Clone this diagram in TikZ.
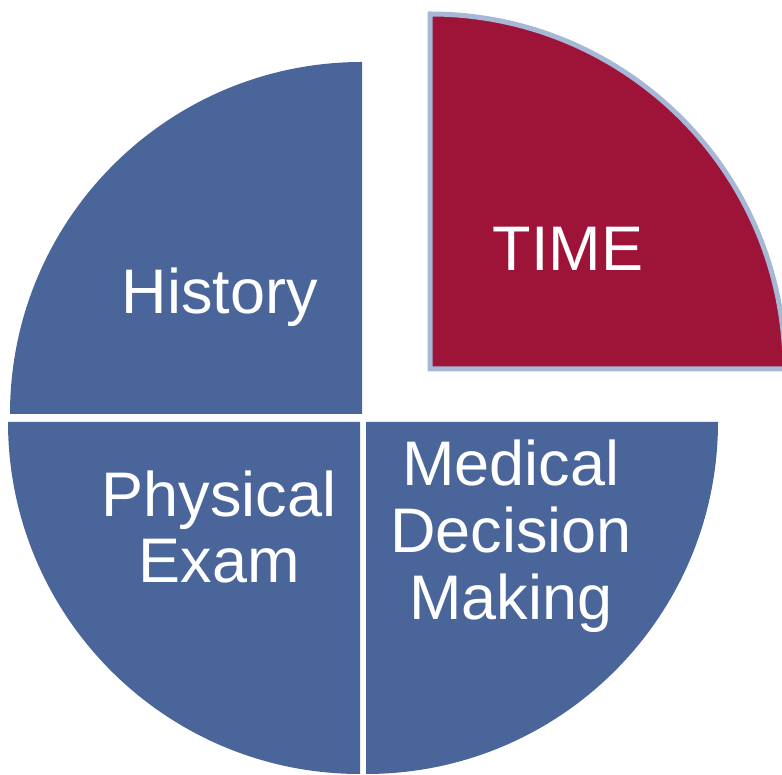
\documentclass[tikz,border=0pt]{standalone}
\usepackage{fontspec}
\setmainfont{Liberation Sans}
\definecolor{sliceblue}{HTML}{4A659A}
\definecolor{slicered}{HTML}{9E1338}
\definecolor{rimblue}{HTML}{A7B7D6}
\tikzset{
  slice/.style={fill=sliceblue, draw=none},
  timeslice/.style={fill=slicered, draw=rimblue, line width=5pt, line join=miter},
  lbl/.style={text=white, font=\fontsize{63}{66}\selectfont, align=center, inner sep=0pt, anchor=base}
}
\begin{document}
\begin{tikzpicture}[x=1pt,y=1pt]
\useasboundingbox (0,0) rectangle (782,775);
\clip (0,0) rectangle (782,775);
% History
\path[slice] (362,361) -- ++(-352,0) arc[start angle=180,end angle=90,radius=352] -- cycle;
% Physical Exam
\path[slice] (360,353) -- ++(-352,0) arc[start angle=180,end angle=270,radius=352] -- cycle;
% Medical Decision Making
\path[slice] (366,353) -- ++(352,0) arc[start angle=0,end angle=-90,radius=352] -- cycle;
% TIME
\path[timeslice] (430,406) -- ++(0,355) arc[start angle=90,end angle=0,radius=355] -- cycle;
\node[lbl] (history) at (220,461) {History};
\node[lbl] (time) at (568,504) {TIME};
\node[lbl] (phys) at (219,192) {Physical\\Exam};
\node[lbl, font=\fontsize{63}{67}\selectfont] (mdm) at (511,155) {Medical\\Decision\\Making};
\end{tikzpicture}
\end{document}
